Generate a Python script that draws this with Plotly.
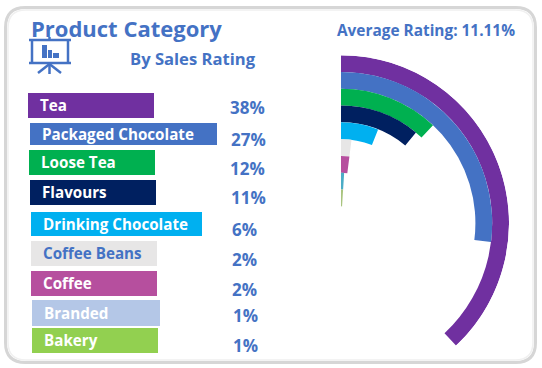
import plotly.graph_objects as go

W, H = 542, 368

# --- data ---
categories = ["Tea", "Packaged Chocolate", "Loose Tea", "Flavours", "Drinking Chocolate",
              "Coffee Beans", "Coffee", "Branded", "Bakery"]
rating_pct = [38, 27, 12, 11, 6, 2, 2, 1, 1]
average_rating = 11.11

# --- styles ---
BLUE = "#4472C4"
label_fill = ["#7030A0", "#4472C4", "#00B050", "#002060", "#00B0F0", "#E7E6E6", "#B64F9E", "#B4C7E7", "#92D050"]
ring_fill = ["#7030A0", "#4472C4", "#00B050", "#002060", "#00B0F0", "#E7E6E6", "#B64F9E", "#4BACC6", "#A9C47F"]
text_fill = ["white", "white", "white", "white", "white", BLUE, "white", "white", "white"]
box_px = [(28, 93, 154, 118), (30, 123, 217, 145), (29, 150, 155, 175), (30, 180, 156, 205), (31, 212, 202, 236),
          (31, 241, 157, 266), (31, 271, 157, 296), (32, 300, 160, 326), (32, 328, 158, 353)]
label_px = [(38, 105), (40, 134), (39, 162), (40, 192), (41, 224), (41, 253), (41, 283), (42, 313), (42, 340)]
pct_px = [(228, 107), (229, 139), (228, 168), (229, 198), (230, 229), (230, 259), (230, 289), (231, 315), (231, 345)]


def px(x):
    return x / W


def py(y):
    return 1 - y / H


def rect(x0, y0, x1, y1, fill, line=None, lw=0):
    return dict(type="rect", xref="paper", yref="paper", x0=px(x0), x1=px(x1), y0=py(y0), y1=py(y1),
                fillcolor=fill, line=dict(color=line or fill, width=lw), layer="below")


def seg(x0, y0, x1, y1, w=2.5):
    return dict(type="line", xref="paper", yref="paper", x0=px(x0), x1=px(x1), y0=py(y0), y1=py(y1),
                line=dict(color=BLUE, width=w))


def rounded(x0, y0, x1, y1, r):
    pts = [(x0 + r, y0), (x1 - r, y0), (x1, y0), (x1, y0 + r), (x1, y1 - r), (x1, y1), (x1 - r, y1),
           (x0 + r, y1), (x0, y1), (x0, y1 - r), (x0, y0 + r), (x0, y0), (x0 + r, y0)]
    p = [(px(a), py(b)) for a, b in pts]
    f = lambda q: f"{q[0]:.5f},{q[1]:.5f}"
    return (f"M{f(p[0])} L{f(p[1])} Q{f(p[2])} {f(p[3])} L{f(p[4])} Q{f(p[5])} {f(p[6])} "
            f"L{f(p[7])} Q{f(p[8])} {f(p[9])} L{f(p[10])} Q{f(p[11])} {f(p[12])} Z")


fig = go.Figure()

# nested rings: outermost ring is the first category
n = len(categories)
fig.add_trace(go.Barpolar(
    theta=[v * 3.6 / 2 for v in rating_pct],
    width=[v * 3.6 for v in rating_pct],
    r=[1] * n,
    base=[n - i for i in range(n)],
    marker=dict(color=ring_fill, line=dict(width=0)),
    text=categories,
    hoverinfo="text",
))

shapes = [
    dict(type="path", xref="paper", yref="paper", path=rounded(5.5, 7.5, 535.5, 362.5, 20),
         line=dict(color="#D6D6D6", width=3), fillcolor="white", layer="below"),
    dict(type="path", xref="paper", yref="paper", path=rounded(8, 10, 533, 360, 18),
         line=dict(color="#F0F0F0", width=1.5), layer="below"),
]
for box, c in zip(box_px, label_fill):
    shapes.append(rect(*box, c))

# presentation-board icon
shapes += [
    seg(29, 40, 71, 40), seg(29, 63, 71, 63), seg(32, 40, 32, 63), seg(68, 40, 68, 63),
    seg(49.5, 37, 49.5, 40), seg(49.5, 63, 49.5, 74), seg(49.5, 64, 38, 73), seg(49.5, 64, 61, 73),
    rect(42, 45, 47, 58, BLUE), rect(48, 50, 52, 58, BLUE), rect(53, 53, 59, 58, BLUE),
]
for s in shapes[-3:]:
    s["layer"] = "above"

ann = []


def text(x, y, s, size, color, family="Open Sans", anchor="left"):
    ann.append(dict(xref="paper", yref="paper", x=px(x), y=py(y), text=f"<b>{s}</b>", showarrow=False,
                    xanchor=anchor, yanchor="middle", font=dict(family=family, size=size, color=color)))


text(29, 28, "Product Category", 22, BLUE)
text(128, 58, "By Sales Rating", 16.6, BLUE)
text(335, 30, f"Average Rating: {average_rating:.2f}%", 15.4, BLUE)
for name, col, (x, y) in zip(categories, text_fill, label_px):
    text(x, y, name, 15.2, col)
for v, (x, y) in zip(rating_pct, pct_px):
    text(x, y, f"{v}%", 17, BLUE)

fig.update_layout(
    width=W, height=H,
    margin=dict(l=0, r=0, t=0, b=0),
    paper_bgcolor="white",
    showlegend=False,
    shapes=shapes,
    annotations=ann,
    polar=dict(
        domain=dict(x=[px(341), px(509)], y=[py(352), py(55)]),
        sector=[-50, 90],
        bgcolor="rgba(0,0,0,0)",
        radialaxis=dict(range=[0, n + 1], visible=False),
        angularaxis=dict(rotation=90, direction="clockwise", visible=False),
        barmode="overlay",
    ),
)
fig.write_html("out.html", config=dict(displayModeBar=False),
               post_script="document.body.style.margin='0';document.body.style.overflow='hidden';")
